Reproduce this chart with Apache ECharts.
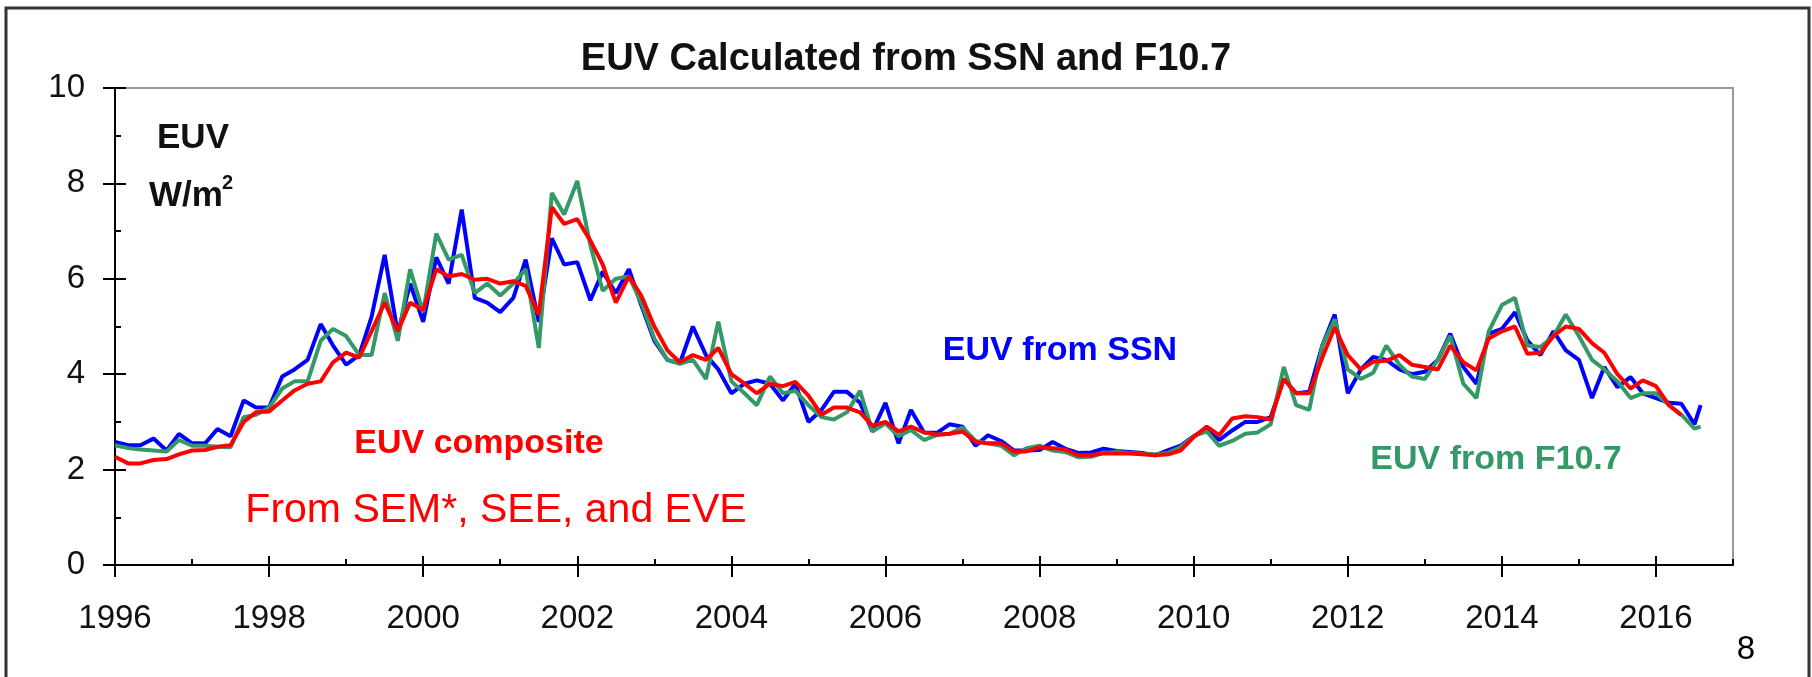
<!DOCTYPE html>
<html>
<head>
<meta charset="utf-8">
<script src="https://cdn.jsdelivr.net/npm/echarts@6/dist/echarts.min.js"></script>
<style>
  html, body { margin: 0; padding: 0; background: #fff; }
  #chart { width: 1812px; height: 677px; }
</style>
</head>
<body>
<div id="chart"></div>
<script>
var years = [
  1996.00, 1996.17, 1996.33, 1996.50, 1996.67, 1996.83,
  1997.00, 1997.17, 1997.33, 1997.50, 1997.67, 1997.83,
  1998.00, 1998.17, 1998.33, 1998.50, 1998.67, 1998.83,
  1999.00, 1999.17, 1999.33, 1999.50, 1999.67, 1999.83,
  2000.00, 2000.17, 2000.33, 2000.50, 2000.67, 2000.83,
  2001.00, 2001.17, 2001.33, 2001.50, 2001.67, 2001.83,
  2002.00, 2002.17, 2002.33, 2002.50, 2002.67, 2002.83,
  2003.00, 2003.17, 2003.33, 2003.50, 2003.67, 2003.83,
  2004.00, 2004.17, 2004.33, 2004.50, 2004.67, 2004.83,
  2005.00, 2005.17, 2005.33, 2005.50, 2005.67, 2005.83,
  2006.00, 2006.17, 2006.33, 2006.50, 2006.67, 2006.83,
  2007.00, 2007.17, 2007.33, 2007.50, 2007.67, 2007.83,
  2008.00, 2008.17, 2008.33, 2008.50, 2008.67, 2008.83,
  2009.00, 2009.17, 2009.33, 2009.50, 2009.67, 2009.83,
  2010.00, 2010.17, 2010.33, 2010.50, 2010.67, 2010.83,
  2011.00, 2011.17, 2011.33, 2011.50, 2011.67, 2011.83,
  2012.00, 2012.17, 2012.33, 2012.50, 2012.67, 2012.83,
  2013.00, 2013.17, 2013.33, 2013.50, 2013.67, 2013.83,
  2014.00, 2014.17, 2014.33, 2014.50, 2014.67, 2014.83,
  2015.00, 2015.17, 2015.33, 2015.50, 2015.67, 2015.83,
  2016.00, 2016.17, 2016.33, 2016.50, 2016.58
];

// EUV from SSN (blue)
var euvSSN = [
  2.58, 2.51, 2.51, 2.65, 2.40, 2.75,
  2.55, 2.55, 2.85, 2.70, 3.45, 3.30,
  3.30, 3.95, 4.10, 4.30, 5.05, 4.60,
  4.20, 4.40, 5.20, 6.50, 4.85, 5.90,
  5.10, 6.45, 5.90, 7.45, 5.60, 5.50,
  5.30, 5.60, 6.40, 5.10, 6.85, 6.30,
  6.35, 5.55, 6.15, 5.70, 6.20, 5.45,
  4.70, 4.30, 4.22, 5.00, 4.40, 4.10,
  3.60, 3.80, 3.87, 3.80, 3.45, 3.80,
  3.00, 3.25, 3.63, 3.63, 3.40, 2.80,
  3.40, 2.55, 3.25, 2.78, 2.77, 2.95,
  2.90, 2.50, 2.72, 2.60, 2.40, 2.40,
  2.41, 2.58, 2.44, 2.35, 2.36, 2.44,
  2.39, 2.37, 2.35, 2.30, 2.41, 2.50,
  2.70, 2.86, 2.62, 2.82, 3.00, 3.00,
  3.10, 3.90, 3.60, 3.63, 4.60, 5.25,
  3.60, 4.10, 4.36, 4.30, 4.10, 4.00,
  4.05, 4.30, 4.85, 4.15, 3.80, 4.85,
  4.95, 5.30, 4.71, 4.40, 4.90, 4.50,
  4.30, 3.50, 4.15, 3.73, 3.94, 3.60,
  3.50, 3.40, 3.38, 2.95, 3.35
];

// EUV from F10.7 (green)
var euvF107 = [
  2.51, 2.45, 2.42, 2.40, 2.38, 2.62,
  2.50, 2.50, 2.48, 2.47, 3.10, 3.15,
  3.30, 3.70, 3.85, 3.85, 4.70, 4.95,
  4.80, 4.40, 4.40, 5.70, 4.70, 6.20,
  5.30, 6.95, 6.40, 6.50, 5.70, 5.90,
  5.65, 5.90, 6.20, 4.55, 7.80, 7.35,
  8.05, 6.70, 5.75, 6.00, 6.05, 5.50,
  4.75, 4.30, 4.22, 4.30, 3.90, 5.10,
  3.85, 3.60, 3.35, 3.95, 3.60, 3.65,
  3.35, 3.10, 3.05, 3.20, 3.65, 2.80,
  2.97, 2.70, 2.83, 2.62, 2.73, 2.75,
  2.88, 2.60, 2.55, 2.50, 2.30, 2.45,
  2.50, 2.40, 2.37, 2.26, 2.27, 2.35,
  2.37, 2.35, 2.33, 2.32, 2.35, 2.47,
  2.70, 2.80, 2.50, 2.60, 2.75, 2.78,
  2.95, 4.15, 3.35, 3.25, 4.60, 5.15,
  4.10, 3.90, 4.03, 4.60, 4.20, 3.95,
  3.90, 4.30, 4.80, 3.80, 3.50, 4.90,
  5.45, 5.60, 4.60, 4.57, 4.80, 5.25,
  4.80, 4.30, 4.10, 3.85, 3.50, 3.60,
  3.60, 3.35, 3.15, 2.86, 2.90
];

// EUV composite (red), ends earlier than the other two
var euvComposite = [
  2.27, 2.13, 2.13, 2.20, 2.22, 2.32,
  2.40, 2.41, 2.48, 2.51, 3.00, 3.20,
  3.22, 3.45, 3.66, 3.80, 3.85, 4.25,
  4.45, 4.35, 4.90, 5.50, 4.90, 5.50,
  5.35, 6.20, 6.05, 6.10, 5.98, 6.00,
  5.90, 5.95, 5.85, 5.25, 7.50, 7.15,
  7.25, 6.80, 6.30, 5.50, 6.05, 5.65,
  5.00, 4.50, 4.25, 4.40, 4.30, 4.55,
  4.00, 3.80, 3.60, 3.80, 3.75, 3.84,
  3.55, 3.15, 3.30, 3.30, 3.20, 2.92,
  3.00, 2.80, 2.90, 2.78, 2.73, 2.75,
  2.80, 2.58, 2.55, 2.55, 2.38, 2.38,
  2.47, 2.45, 2.42, 2.30, 2.30, 2.34,
  2.34, 2.34, 2.32, 2.30, 2.32, 2.40,
  2.68, 2.90, 2.72, 3.07, 3.12, 3.10,
  3.05, 3.90, 3.60, 3.60, 4.35, 4.98,
  4.40, 4.10, 4.26, 4.28, 4.40, 4.20,
  4.15, 4.10, 4.60, 4.25, 4.08, 4.75,
  4.90, 5.00, 4.43, 4.45, 4.80, 5.00,
  4.95, 4.65, 4.45, 4.00, 3.70, 3.87,
  3.75, 3.35, 3.14, null, null
];

// labelled years, axis runs one year past the last label
var yearLabels = [1996, 1998, 2000, 2002, 2004, 2006, 2008, 2010, 2012, 2014, 2016];
var yearRange = [1996, 2017];
var euvTicks = { min: 0, max: 10, step: 2 };

function pairs(vals) {
    var out = [];
    for (var i = 0; i < years.length; i++) {
        if (vals[i] != null) out.push([years[i], vals[i]]);
    }
    return out;
}

var chart = echarts.init(document.getElementById('chart'));
var font = 'Liberation Sans, Arial, sans-serif';
var tickStyle = { color: '#000', width: 2 };

// ticks cross the axis in the original: outer part + labels on one axis,
// inner major ticks on a second, small yearly ticks on a third
function xAx(kind) {
    var ax = {
        type: 'value', position: 'bottom',
        min: yearRange[0], max: yearRange[1], interval: 1,
        splitLine: { show: false },
        axisLine: { show: kind === 'outer', lineStyle: { color: '#000', width: 2 } },
        axisTick: { show: true, inside: kind !== 'outer', lineStyle: tickStyle },
        axisLabel: { show: false }
    };
    if (kind === 'outer') {
        ax.axisTick.length = 12;
        ax.axisTick.customValues = yearLabels;
        ax.axisLabel = {
            show: true, margin: 37, color: '#111', fontSize: 33, fontFamily: font,
            customValues: yearLabels,
            formatter: function (v) { return String(v); }
        };
    } else if (kind === 'innerMajor') {
        ax.axisTick.length = 9;
        ax.axisTick.customValues = yearLabels;
    } else {
        ax.axisTick.length = 6;
    }
    return ax;
}
function yAx(outer) {
    return {
        type: 'value', position: 'left',
        min: euvTicks.min, max: euvTicks.max, interval: euvTicks.step,
        splitLine: { show: false },
        axisLine: { show: outer, lineStyle: { color: '#000', width: 2 } },
        axisTick: { show: true, inside: !outer, length: outer ? 12 : 11, lineStyle: tickStyle },
        minorTick: { show: !outer, splitNumber: 2, length: 6, lineStyle: tickStyle },
        axisLabel: { show: outer, margin: 30, color: '#111', fontSize: 33, fontFamily: font }
    };
}

function line(name, vals, color) {
    return {
        name: name, type: 'line', xAxisIndex: 0, yAxisIndex: 0,
        data: pairs(vals), showSymbol: false,
        lineStyle: { color: color, width: 4 },
        itemStyle: { color: color }
    };
}

var option = {
    animation: false,
    backgroundColor: '#fff',
    title: {
        text: 'EUV Calculated from SSN and F10.7',
        left: 'center', top: 36,
        textStyle: { fontFamily: font, fontWeight: 'bold', fontSize: 38, color: '#111' }
    },
    grid: {
        left: 115, right: 79, top: 88, bottom: 112,
        show: true, borderColor: '#999', borderWidth: 2, backgroundColor: 'transparent'
    },
    xAxis: [xAx('outer'), xAx('innerMajor'), xAx('minor')],
    yAxis: [yAx(true), yAx(false)],
    series: [
        line('EUV from SSN', euvSSN, '#0000ff'),
        line('EUV from F10.7', euvF107, '#339966'),
        line('EUV composite', euvComposite, '#ff0000')
    ],
    graphic: [
        // outer slide frame
        { type: 'rect', shape: { x: 6, y: 8, width: 1803, height: 720 },
          style: { fill: null, stroke: '#333', lineWidth: 3 }, silent: true },
        { type: 'text', style: { text: 'EUV', x: 193, y: 138, fill: '#111',
          font: 'bold 35px ' + font, textAlign: 'center', textVerticalAlign: 'middle' } },
        { type: 'text', style: { text: 'W/m', x: 149, y: 196, fill: '#111',
          font: 'bold 35px ' + font, textAlign: 'left', textVerticalAlign: 'middle' } },
        { type: 'text', style: { text: '2', x: 222, y: 183, fill: '#111',
          font: 'bold 20px ' + font, textAlign: 'left', textVerticalAlign: 'middle' } },
        { type: 'text', style: { text: 'EUV from SSN', x: 1060, y: 351, fill: '#0000ff',
          font: 'bold 34px ' + font, textAlign: 'center', textVerticalAlign: 'middle' } },
        { type: 'text', style: { text: 'EUV composite', x: 479, y: 444, fill: '#ff0000',
          font: 'bold 34px ' + font, textAlign: 'center', textVerticalAlign: 'middle' } },
        { type: 'text', style: { text: 'From SEM*, SEE, and EVE', x: 496, y: 511, fill: '#ff0000',
          font: '41px ' + font, textAlign: 'center', textVerticalAlign: 'middle' } },
        { type: 'text', style: { text: 'EUV from F10.7', x: 1496, y: 460, fill: '#339966',
          font: 'bold 34px ' + font, textAlign: 'center', textVerticalAlign: 'middle' } },
        { type: 'text', style: { text: '8', x: 1746, y: 650, fill: '#000',
          font: '33px ' + font, textAlign: 'center', textVerticalAlign: 'middle' } }
    ]
};

chart.setOption(option);
</script>
</body>
</html>
